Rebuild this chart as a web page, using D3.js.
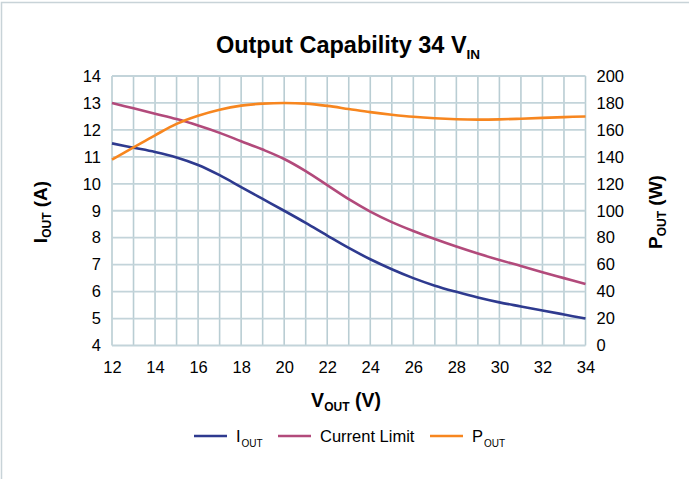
<!DOCTYPE html>
<html>
<head>
<meta charset="utf-8">
<title>Output Capability 34 VIN</title>
<script src="https://d3js.org/d3.v7.min.js"></script>
<style>
  body { margin: 0; background: #fff; }
  text { font-family: "Liberation Sans", Arial, sans-serif; fill: #000; }
</style>
</head>
<body>
<div id="chart"></div>
<script>
// values
var vout = [12,13,14,15,16,17,18,19,20,21,22,23,24,25,26,27,28,29,30,31,32,33,34];
var iout = [11.5,11.34,11.18,10.98,10.7,10.32,9.88,9.44,9.0,8.55,8.08,7.62,7.2,6.83,6.5,6.22,5.99,5.78,5.6,5.45,5.3,5.15,5.0];
var currentLimit = [13.0,12.8,12.6,12.4,12.16,11.89,11.58,11.27,10.92,10.47,9.95,9.43,8.97,8.58,8.25,7.95,7.67,7.41,7.17,6.95,6.72,6.5,6.28];
var pout = [138,147,156,164.5,170.5,175,178,179.5,180,179.5,177.8,175.5,173.2,171.3,169.7,168.6,167.9,167.6,167.8,168.3,168.9,169.5,170];
var xTicks = [12,14,16,18,20,22,24,26,28,30,32,34];
var yLeftTicks = [4,5,6,7,8,9,10,11,12,13,14];
var yRightTicks = [0,20,40,60,80,100,120,140,160,180,200];

var W = 689, H = 479;
var margin = {top: 76, right: 103.5, bottom: 133.5, left: 112};
var width = W - margin.left - margin.right,
    height = H - margin.top - margin.bottom;

var svg = d3.select("#chart").append("svg")
  .attr("width", W).attr("height", H);

// outer frame
svg.append("rect")
  .attr("x", 1.5).attr("y", 2.5)
  .attr("width", W + 10).attr("height", H + 10)
  .attr("fill", "none").attr("stroke", "#c8d3d8").attr("stroke-width", 1.5);

var g = svg.append("g").attr("transform", "translate(" + margin.left + "," + margin.top + ")");

var x = d3.scaleLinear().domain([12, 34]).range([0, width]);
var yL = d3.scaleLinear().domain([4, 14]).range([height, 0]);
var yR = d3.scaleLinear().domain([0, 200]).range([height, 0]);

// grid: every volt, every amp
g.append("g").selectAll("line").data(d3.range(12, 35, 1)).join("line")
  .attr("x1", d => x(d)).attr("x2", d => x(d))
  .attr("y1", 0).attr("y2", height)
  .attr("stroke", "#b9cdd3").attr("stroke-width", 1.6);
g.append("g").selectAll("line").data(yLeftTicks).join("line")
  .attr("x1", 0).attr("x2", width)
  .attr("y1", d => yL(d)).attr("y2", d => yL(d))
  .attr("stroke", "#c3d4da").attr("stroke-width", 1.8);

// axes (labels only)
var xAxis = g.append("g").attr("transform", "translate(0," + height + ")")
  .call(d3.axisBottom(x).tickValues(xTicks).tickSize(0).tickPadding(16));
var yAxisL = g.append("g")
  .call(d3.axisLeft(yL).tickValues(yLeftTicks).tickSize(0).tickPadding(11));
var yAxisR = g.append("g").attr("transform", "translate(" + width + ",0)")
  .call(d3.axisRight(yR).tickValues(yRightTicks).tickSize(0).tickPadding(11));
[xAxis, yAxisL, yAxisR].forEach(a => {
  a.select(".domain").remove();
  a.selectAll("text").attr("font-size", 16.5).attr("font-family", "Liberation Sans, Arial, sans-serif").attr("fill", "#000");
});

// series
var lineL = d3.line().x((d, i) => x(vout[i])).y(d => yL(d)).curve(d3.curveCatmullRom.alpha(0.5));
var lineR = d3.line().x((d, i) => x(vout[i])).y(d => yR(d)).curve(d3.curveCatmullRom.alpha(0.5));

var series = [
  {name: "I", sub: "OUT", values: iout, color: "#2e3a8f", line: lineL},
  {name: "Current Limit", sub: "", values: currentLimit, color: "#b24a7b", line: lineL},
  {name: "P", sub: "OUT", values: pout, color: "#f7861f", line: lineR}
];
series.forEach(s => {
  g.append("path").datum(s.values)
    .attr("d", s.line)
    .attr("fill", "none").attr("stroke", s.color).attr("stroke-width", 2.6);
});

// title
var title = svg.append("text").attr("x", 348).attr("y", 53)
  .attr("text-anchor", "middle").attr("font-size", 23.5).attr("font-weight", "bold");
title.append("tspan").text("Output Capability 34 V");
title.append("tspan").attr("font-size", 13.5).attr("dy", 6).text("IN");

// x title
var xt = svg.append("text").attr("x", 346).attr("y", 407)
  .attr("text-anchor", "middle").attr("font-size", 19.5).attr("font-weight", "bold");
xt.append("tspan").text("V");
xt.append("tspan").attr("font-size", 12).attr("dy", 4).text("OUT");
xt.append("tspan").attr("dy", -4).text(" (V)");

// left title
var lt = svg.append("text").attr("transform", "translate(47,212) rotate(-90)")
  .attr("text-anchor", "middle").attr("font-size", 19).attr("font-weight", "bold");
lt.append("tspan").text("I");
lt.append("tspan").attr("font-size", 12).attr("dy", 4).text("OUT");
lt.append("tspan").attr("dy", -4).text(" (A)");

// right title
var rt = svg.append("text").attr("transform", "translate(662,212) rotate(-90)")
  .attr("text-anchor", "middle").attr("font-size", 19).attr("font-weight", "bold");
rt.append("tspan").text("P");
rt.append("tspan").attr("font-size", 12).attr("dy", 4).text("OUT");
rt.append("tspan").attr("dy", -4).text(" (W)");

// legend
var legendX = [194, 278, 430];
var leg = svg.append("g");
series.forEach((s, i) => {
  leg.append("line")
    .attr("x1", legendX[i]).attr("x2", legendX[i] + 33)
    .attr("y1", 436).attr("y2", 436)
    .attr("stroke", s.color).attr("stroke-width", 2.6);
  var t = leg.append("text").attr("x", legendX[i] + 42).attr("y", 442).attr("font-size", 16.5);
  t.append("tspan").text(s.name);
  if (s.sub) t.append("tspan").attr("font-size", 10).attr("dy", 5).attr("dx", 1).text(s.sub);
});
</script>
</body>
</html>
